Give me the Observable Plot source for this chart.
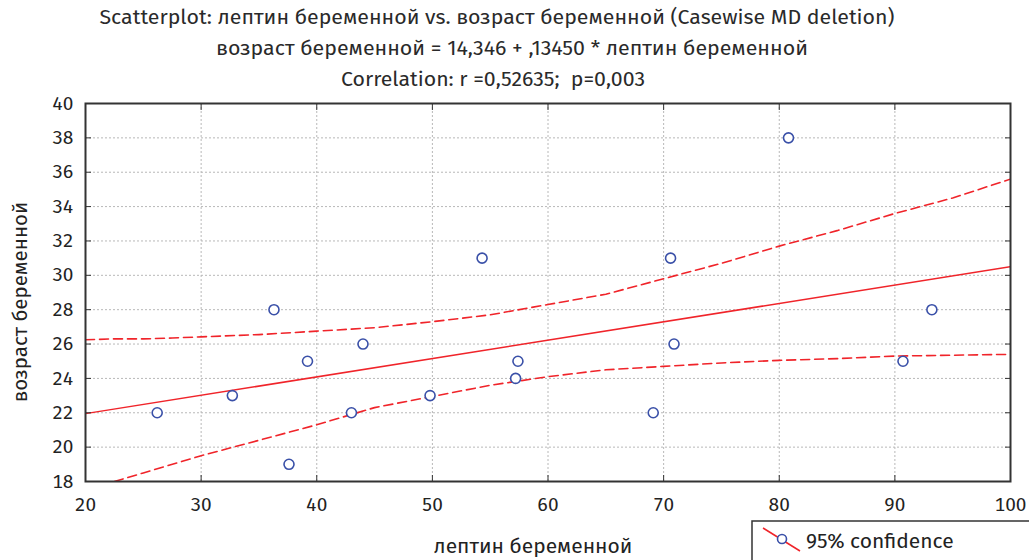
<!DOCTYPE html>
<html><head><meta charset="utf-8">
<script src="https://cdn.jsdelivr.net/npm/d3@7"></script>
<script src="https://cdn.jsdelivr.net/npm/@observablehq/plot@0.6"></script>
<style>
html,body{margin:0;padding:0;background:#fff;}
svg{display:block;}
</style>
</head><body>
<div id="chart"></div>
<script>
// Observations: лептин беременной (x) and возраст беременной (y)
const leptin = [26.2, 32.7, 36.3, 39.2, 37.6, 44.0, 43.0, 49.8, 54.3, 57.4, 57.2, 69.1, 70.6, 70.9, 80.8, 90.7, 93.2];
const age    = [22,   23,   28,   25,   19,   26,   22,   23,   31,   25,   24,   22,   31,   26,   38,   25,   28];

// Regression line as drawn
const fitX = [20, 100];
const fitY = [21.95, 30.5];

// 95% confidence band (upper and lower)
const upperX = [20, 22.5, 25, 27.5, 30, 35, 40, 45, 50, 55, 60, 65, 70, 75, 80, 85, 90, 95, 100];
const upperY = [26.25, 26.3, 26.3, 26.35, 26.42, 26.55, 26.75, 26.95, 27.3, 27.7, 28.3, 28.9, 29.8, 30.7, 31.7, 32.6, 33.6, 34.5, 35.6];
const lowerX = [22.5, 25, 30, 35, 40, 45, 50, 55, 60, 65, 70, 75, 80, 85, 90, 95, 100];
const lowerY = [18.0, 18.5, 19.5, 20.4, 21.3, 22.3, 22.95, 23.6, 24.1, 24.5, 24.7, 24.9, 25.05, 25.15, 25.3, 25.35, 25.4];

const xTicks = [20, 30, 40, 50, 60, 70, 80, 90, 100];
const yTicks = [18, 20, 22, 24, 26, 28, 30, 32, 34, 36, 38, 40];

const titleLines = [
  "Scatterplot: лептин беременной vs. возраст беременной (Casewise MD deletion)",
  "возраст беременной = 14,346 + ,13450 * лептин беременной",
  "Correlation: r =0,52635;  p=0,003"
];
const xLabel = "лептин беременной";
const yLabel = "возраст беременной";
const legendLabel = "95% confidence";

const points = leptin.map((x, i) => ({x, y: age[i]}));
const fit = fitX.map((x, i) => ({x, y: fitY[i]}));
const upper = upperX.map((x, i) => ({x, y: upperY[i]}));
const lower = lowerX.map((x, i) => ({x, y: lowerY[i]}));

const RED = "#f0242a";
const BLUE = "#3a50a8";
const FONT = "'Fira Sans', 'Open Sans', 'Noto Sans', sans-serif";

const chart = Plot.plot({
  width: 1029,
  height: 560,
  marginLeft: 85,
  marginRight: 19,
  marginTop: 103,
  marginBottom: 79,
  style: {fontFamily: FONT, fontSize: "19px", color: "#222", background: "#fff"},
  x: {domain: [20, 100], ticks: xTicks},
  y: {domain: [18, 40], ticks: yTicks},
  marks: [
    Plot.gridX(xTicks, {stroke: "#b8b8b8", strokeOpacity: 1, strokeDasharray: "2,2", strokeWidth: 1}),
    Plot.gridY(yTicks, {stroke: "#b8b8b8", strokeOpacity: 1, strokeDasharray: "2,2", strokeWidth: 1}),
    Plot.line(upper, {x: "x", y: "y", stroke: RED, strokeWidth: 1.6, strokeDasharray: "9,5", clip: true}),
    Plot.line(lower, {x: "x", y: "y", stroke: RED, strokeWidth: 1.6, strokeDasharray: "9,5", clip: true}),
    Plot.line(fit, {x: "x", y: "y", stroke: RED, strokeWidth: 1.5, clip: true}),
    Plot.dot(points, {x: "x", y: "y", r: 5, stroke: BLUE, strokeWidth: 1.6, fill: "white"}),
    // inward tick marks on all four sides
    Plot.axisX(xTicks, {anchor: "bottom", tickSize: 6, dy: -6, tickFormat: () => "", stroke: "#333", label: null}),
    Plot.axisX(xTicks, {anchor: "top", tickSize: 6, dy: 6, tickFormat: () => "", stroke: "#333", label: null}),
    Plot.axisY(yTicks, {anchor: "left", tickSize: 6, dx: 6, tickFormat: () => "", stroke: "#333", label: null}),
    Plot.axisY(yTicks, {anchor: "right", tickSize: 6, dx: -6, tickFormat: () => "", stroke: "#333", label: null}),
    // tick labels
    Plot.axisX(xTicks, {anchor: "bottom", tickSize: 0, tickPadding: 16, fontSize: 19, fill: "#222", label: null}),
    Plot.axisY(yTicks, {anchor: "left", tickSize: 0, tickPadding: 12, fontSize: 19, fill: "#222", label: null}),
    Plot.frame({stroke: "#333", strokeWidth: 2})
  ]
});

const svg = d3.select(chart);
const title = svg.append("g").attr("font-family", FONT).attr("font-size", 20).attr("fill", "#2a2a2a").attr("text-anchor", "middle");
const tPos = [[497, 24, 795], [512, 55, 592], [493, 86, 304]];
titleLines.forEach((t, i) => {
  title.append("text").attr("x", tPos[i][0]).attr("y", tPos[i][1])
    .attr("textLength", tPos[i][2]).attr("lengthAdjust", "spacingAndGlyphs").text(t);
});
svg.append("text").attr("x", 533).attr("y", 553).attr("text-anchor", "middle")
  .attr("font-family", FONT).attr("font-size", 21).attr("fill", "#222").text(xLabel);
svg.append("text").attr("transform", "translate(27,302) rotate(-90)").attr("text-anchor", "middle")
  .attr("font-family", FONT).attr("font-size", 20.5).attr("fill", "#222").text(yLabel);

// legend
const lg = svg.append("g").attr("text-anchor", "start");
lg.append("rect").attr("x", 752).attr("y", 521).attr("width", 300).attr("height", 45)
  .attr("fill", "white").attr("stroke", "#333").attr("stroke-width", 1.5);
lg.append("line").attr("x1", 763).attr("y1", 528).attr("x2", 800).attr("y2", 551)
  .attr("stroke", RED).attr("stroke-width", 1.5);
lg.append("circle").attr("cx", 782).attr("cy", 539).attr("r", 4.5)
  .attr("fill", "white").attr("stroke", BLUE).attr("stroke-width", 1.6);
lg.append("text").attr("x", 806).attr("y", 548).attr("text-anchor", "start").attr("font-family", FONT).attr("font-size", 21)
  .attr("fill", "#222").text(legendLabel);

document.getElementById("chart").appendChild(chart);
</script>
</body></html>
